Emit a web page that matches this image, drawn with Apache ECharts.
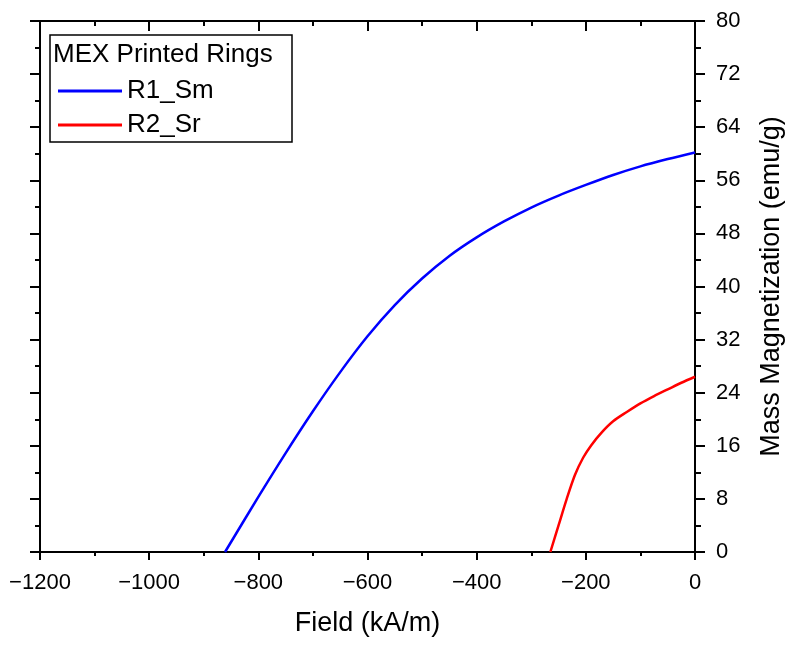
<!DOCTYPE html>
<html>
<head>
<meta charset="utf-8">
<script src="https://cdn.jsdelivr.net/npm/echarts@6/dist/echarts.min.js"></script>
<style>
  html, body { margin: 0; padding: 0; background: #fff; overflow: hidden; }
  #chart { width: 793px; height: 646px; }
</style>
</head>
<body>
<div id="chart"></div>
<script>
// R1_Sm: field (kA/m) vs mass magnetization (emu/g)
const r1Field = [-861, -800, -750, -700, -650, -600, -550, -500, -450, -400, -350, -300, -250, -200, -150, -100, -50, 0];
const r1Mag   = [0, 8.3, 14.9, 21.2, 27.1, 32.5, 37.2, 41.2, 44.6, 47.4, 49.8, 51.9, 53.7, 55.3, 56.8, 58.1, 59.2, 60.2];
// R2_Sr
const r2Field = [-265, -250, -235, -220, -205, -190, -170, -150, -125, -100, -75, -50, -25, 0];
const r2Mag   = [0, 4.0, 8.0, 11.6, 14.2, 16.1, 18.1, 19.7, 21.1, 22.4, 23.5, 24.5, 25.5, 26.4];

const seriesNames = ["R1_Sm", "R2_Sr"];
const legendTitle = "MEX Printed Rings";

const font = "'Liberation Sans', Arial, sans-serif";
const minus = v => (v < 0 ? "\u2212" + Math.abs(v) : String(v));

const chart = echarts.init(document.getElementById("chart"));
const axisLine = { onZero: false, lineStyle: { color: "#000", width: 2 } };

chart.setOption({
  animation: false,
  backgroundColor: "#fff",
  grid: { left: 40, right: 92, top: 21, bottom: 94, containLabel: false },
  legend: {
    data: seriesNames,
    orient: "vertical",
    left: 53,
    top: 71,
    icon: "rect",
    itemWidth: 64,
    itemHeight: 3,
    itemGap: 4,
    textStyle: { fontFamily: font, fontSize: 26, color: "#000", lineHeight: 30 }
  },
  graphic: [
    {
      type: "rect",
      shape: { x: 50, y: 35, width: 242, height: 107 },
      style: { fill: "#fff", stroke: "#000", lineWidth: 1.5 },
      z: 0
    },
    {
      type: "text",
      left: 53,
      top: 42,
      style: { text: legendTitle, font: "26px " + font, fill: "#000" },
      z: 10
    }
  ],
  xAxis: [
    {
      type: "value",
      position: "bottom",
      min: -1200, max: 0, interval: 200,
      name: "Field (kA/m)",
      nameLocation: "middle",
      nameGap: 58,
      nameTextStyle: { fontFamily: font, fontSize: 27, color: "#000" },
      axisLine: axisLine,
      axisTick: { show: true, length: 8, lineStyle: { color: "#000", width: 2 } },
      minorTick: { show: true, splitNumber: 2, length: 4, lineStyle: { color: "#000", width: 2 } },
      axisLabel: { fontFamily: font, fontSize: 22, color: "#000", margin: 20, formatter: minus },
      splitLine: { show: false }
    },
    {
      type: "value",
      position: "top",
      min: -1200, max: 0, interval: 200,
      axisLine: axisLine,
      axisTick: { show: true, inside: true, length: 10, lineStyle: { color: "#000", width: 2 } },
      minorTick: { show: true, splitNumber: 2, length: 5, lineStyle: { color: "#000", width: 2 } },
      axisLabel: { show: false },
      splitLine: { show: false }
    }
  ],
  yAxis: [
    {
      type: "value",
      position: "right",
      min: 0, max: 80, interval: 8,
      name: "Mass Magnetization (emu/g)",
      nameLocation: "middle",
      nameGap: 63,
      nameTextStyle: { fontFamily: font, fontSize: 27, color: "#000" },
      axisLine: axisLine,
      axisTick: { show: true, length: 10, lineStyle: { color: "#000", width: 2 } },
      minorTick: { show: true, splitNumber: 2, length: 6, lineStyle: { color: "#000", width: 2 } },
      axisLabel: { fontFamily: font, fontSize: 22, color: "#000", margin: 21 },
      splitLine: { show: false }
    },
    {
      type: "value",
      position: "left",
      min: 0, max: 80, interval: 8,
      axisLine: axisLine,
      axisTick: { show: true, length: 10, lineStyle: { color: "#000", width: 2 } },
      minorTick: { show: true, splitNumber: 2, length: 5, lineStyle: { color: "#000", width: 2 } },
      axisLabel: { show: false },
      splitLine: { show: false }
    }
  ],
  series: [
    {
      name: seriesNames[0],
      type: "line",
      xAxisIndex: 0,
      yAxisIndex: 0,
      symbol: "none",
      smooth: 0.3,
      color: "#0000ff",
      lineStyle: { color: "#0000ff", width: 2.5 },
      data: r1Field.map((x, i) => [x, r1Mag[i]])
    },
    {
      name: seriesNames[1],
      type: "line",
      xAxisIndex: 0,
      yAxisIndex: 0,
      symbol: "none",
      smooth: 0.3,
      color: "#ff0000",
      lineStyle: { color: "#ff0000", width: 2.5 },
      data: r2Field.map((x, i) => [x, r2Mag[i]])
    }
  ]
});
</script>
</body>
</html>
